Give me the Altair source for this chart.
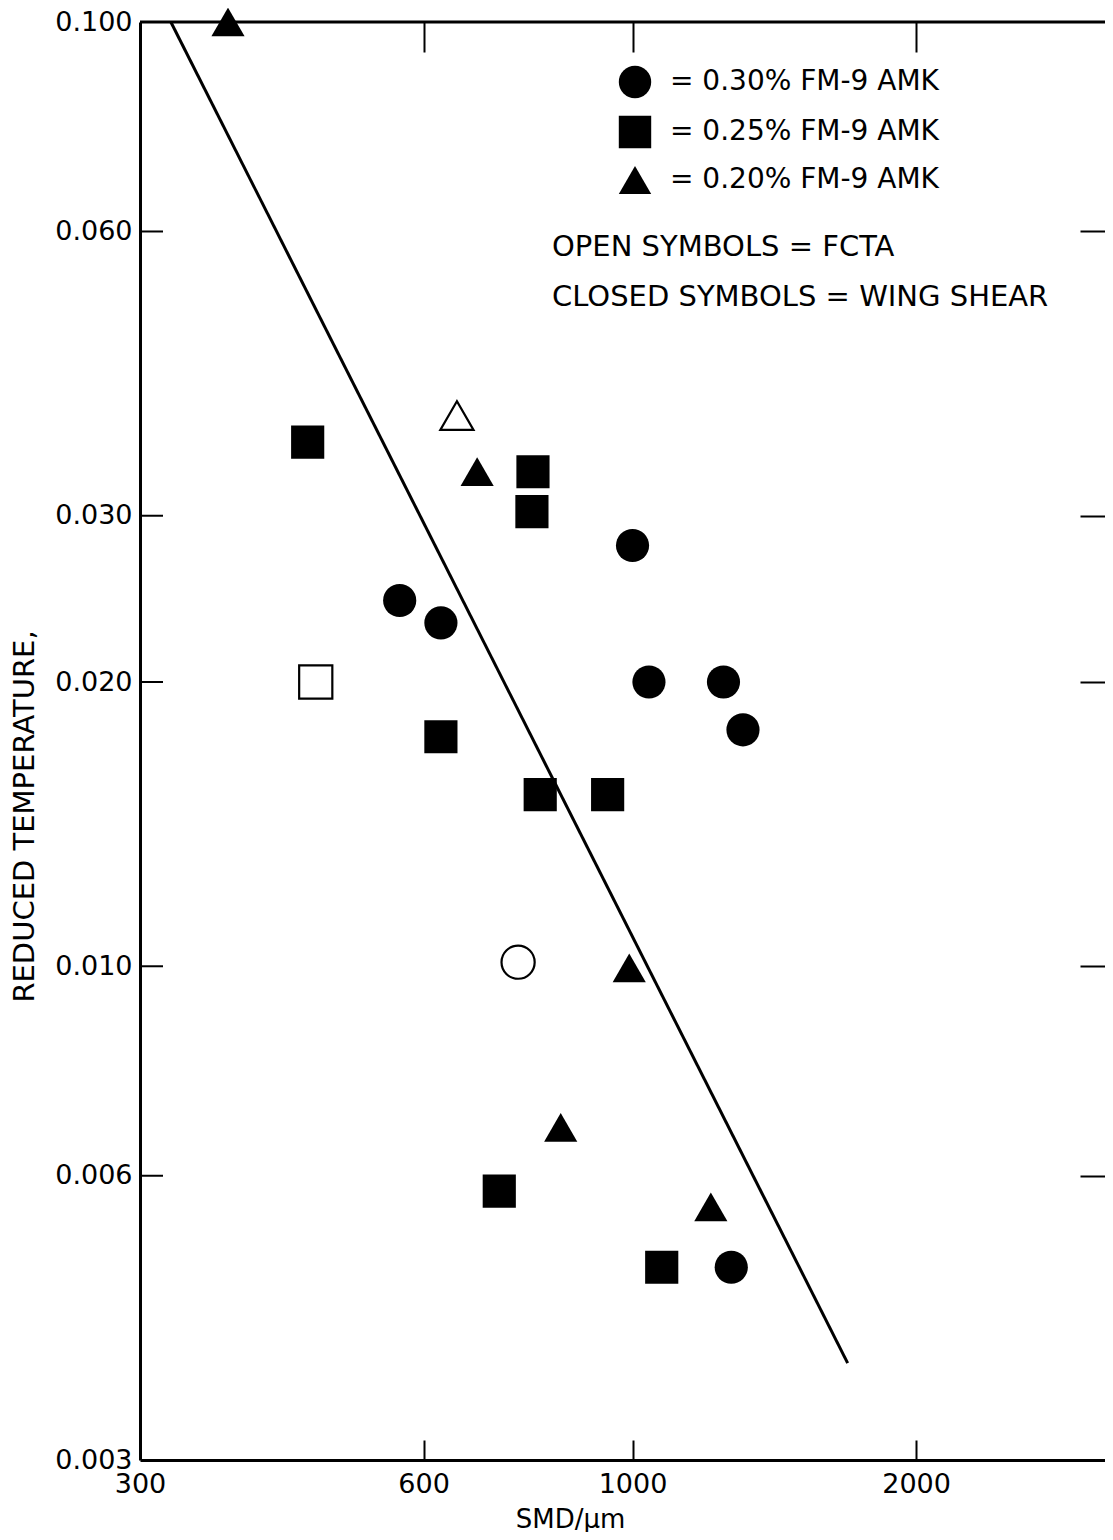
import altair as alt
import pandas as pd

# ---------------- data ----------------
series = ["0.30", "0.25", "0.20"]          # % FM-9 AMK
shapes = ["circle", "square", "triangle-up"]

# closed symbols = wing shear
closed_circle_x = [1000, 566, 626, 1041, 1249, 1310, 1273]
closed_circle_y = [0.0279, 0.0244, 0.0231, 0.0200, 0.0200, 0.0178, 0.0048]
closed_square_x = [452, 784, 782, 626, 798, 941, 722, 1074]
closed_square_y = [0.0359, 0.0334, 0.0303, 0.0175, 0.0152, 0.0152, 0.00578, 0.0048]
closed_triangle_x = [372, 684, 992, 839, 1211]
closed_triangle_y = [0.100, 0.0334, 0.00996, 0.00675, 0.00556]

# open symbols = FCTA
open_circle_x = [756]
open_circle_y = [0.0101]
open_square_x = [461]
open_square_y = [0.0200]
open_triangle_x = [651]
open_triangle_y = [0.0383]

# fitted line end points
line_x = [323.5, 1692]
line_y = [0.100, 0.0038]

x_ticks = [300, 600, 1000, 2000]
y_ticks = [0.003, 0.006, 0.010, 0.020, 0.030, 0.060, 0.100]
x_inner_ticks = [600, 1000, 2000]
y_inner_ticks = [0.006, 0.010, 0.020, 0.030, 0.060]

X_DOMAIN = [300, 3174]
Y_DOMAIN = [0.003, 0.100]

notes = ["OPEN SYMBOLS = FCTA", "CLOSED SYMBOLS = WING SHEAR"]

# ---------------- tables ----------------
def make(xs, ys, conc):
    return [dict(smd=a, t=b, conc=conc) for a, b in zip(xs, ys)]

closed_df = pd.DataFrame(
    make(closed_circle_x, closed_circle_y, series[0])
    + make(closed_square_x, closed_square_y, series[1])
    + make(closed_triangle_x, closed_triangle_y, series[2])
)
open_df = pd.DataFrame(
    make(open_circle_x, open_circle_y, series[0])
    + make(open_square_x, open_square_y, series[1])
    + make(open_triangle_x, open_triangle_y, series[2])
)
line_df = pd.DataFrame({"smd": line_x, "t": line_y})
ytick_df = pd.DataFrame({"t": y_inner_ticks})

FONT = "DejaVu Sans"
FS = 27
W, H = 965, 1438

xs = alt.Scale(type="log", domain=X_DOMAIN, nice=False, zero=False)
ys = alt.Scale(type="log", domain=Y_DOMAIN, nice=False, zero=False)
shape_scale = alt.Scale(domain=series, range=shapes)

legend_def = alt.Legend(
    title=None, orient="none", legendX=478, legendY=43,
    symbolSize=1050, symbolFillColor="black", symbolStrokeColor="black",
    symbolStrokeWidth=1, symbolOpacity=1,
    labelFont=FONT, labelFontSize=28, labelColor="black",
    labelExpr="'= ' + datum.label + '% FM-9 AMK'",
    rowPadding=12, labelOffset=18, padding=0, labelLimit=500,
)

# ---------------- axes ----------------
x_main_axis = alt.Axis(
    orient="bottom", values=x_ticks, format="d", ticks=False, tickSize=0,
    domain=True, domainColor="black", domainWidth=3, grid=False,
    labelFont=FONT, labelFontSize=FS, labelColor="black", labelPadding=11,
    labelFlush=False, labelOverlap=False,
    title="SMD/μm", titleFont=FONT, titleFontSize=26, titleFontWeight="normal",
    titleColor="black", titleX=430, titleY=67, titleAlign="center",
    titleBaseline="alphabetic", titleAnchor="start",
)
y_main_axis = alt.Axis(
    orient="left", values=y_ticks, format=".3f", ticks=False, tickSize=0,
    domain=True, domainColor="black", domainWidth=3, grid=False,
    labelFont=FONT, labelFontSize=FS, labelColor="black", labelPadding=8,
    labelFlush=False, labelOverlap=False,
    title="REDUCED TEMPERATURE,", titleFont=FONT, titleFontSize=29,
    titleFontWeight="normal", titleColor="black", titleX=-116, titleY=794,
    titleAlign="center", titleBaseline="middle", titleAngle=270,
    titleAnchor="start",
)
x_bottom_ticks = alt.Axis(
    orient="bottom", offset=-20, tickSize=20, tickWidth=2, tickColor="black",
    values=x_inner_ticks, labels=False, domain=False, grid=False, title=None,
)
y_right_ticks = alt.Axis(
    orient="right", offset=-25, tickSize=25, tickWidth=2, tickColor="black",
    values=y_inner_ticks, labels=False, domain=False, grid=False, title=None,
)
x_top_ticks = alt.Axis(
    orient="top", offset=-30, tickSize=30, tickWidth=2, tickColor="black",
    values=x_inner_ticks, labels=False, domain=False, grid=False, title=None,
)

# ---------------- layers ----------------
closed_layer = alt.Chart(closed_df).mark_point(
    filled=True, color="black", opacity=1, size=1100
).encode(
    x=alt.X("smd:Q", scale=xs, axis=x_main_axis),
    y=alt.Y("t:Q", scale=ys, axis=y_main_axis),
    shape=alt.Shape("conc:N", scale=shape_scale, legend=legend_def),
)

open_layer = alt.Chart(open_df).mark_point(
    filled=False, color="black", strokeWidth=2.2, fill="white", fillOpacity=1,
    opacity=1, size=1100
).encode(
    x=alt.X("smd:Q", scale=xs, axis=x_bottom_ticks),
    y=alt.Y("t:Q", scale=ys, axis=None),
    shape=alt.Shape("conc:N", scale=shape_scale, legend=legend_def),
)

line_layer = alt.Chart(line_df).mark_line(
    color="black", strokeWidth=3
).encode(
    x=alt.X("smd:Q", scale=xs, axis=None),
    y=alt.Y("t:Q", scale=ys, axis=y_right_ticks),
)

# inward tick marks on the left frame edge
left_ticks = alt.Chart(ytick_df).mark_rule(
    color="black", strokeWidth=2
).encode(
    y=alt.Y("t:Q", scale=ys, axis=None),
    x=alt.value(0), x2=alt.value(23),
)

top_frame = alt.Chart(pd.DataFrame({"k": [0]})).mark_rule(
    color="black", strokeWidth=3
).encode(
    x=alt.X(datum=X_DOMAIN[0], scale=xs, axis=x_top_ticks),
    x2=alt.X2(datum=X_DOMAIN[1]),
    y=alt.Y(datum=Y_DOMAIN[1], scale=ys, axis=None),
)

notes_layer = alt.Chart(pd.DataFrame({"k": [0]})).mark_text(
    align="left", baseline="alphabetic", font=FONT, fontSize=29,
    color="black", lineHeight=50,
).encode(
    x=alt.value(412), y=alt.value(234), text=alt.value(notes),
)

chart = alt.layer(
    closed_layer, open_layer, top_frame, line_layer, left_ticks, notes_layer
).resolve_axis(
    x="independent", y="independent"
).properties(
    width=W, height=H,
    autosize=alt.AutoSizeParams(type="none"),
    padding={"left": 132, "top": 14, "right": 0, "bottom": 72},
    background="white",
).configure_view(stroke=None)

chart.save("out.html", embed_options={"renderer": "svg", "actions": False})
